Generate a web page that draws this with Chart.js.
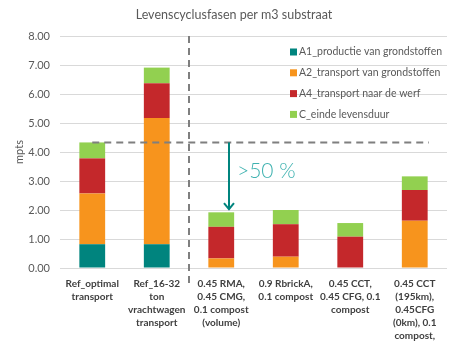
<!DOCTYPE html>
<html>
<head>
<meta charset="utf-8">
<script src="https://cdn.jsdelivr.net/npm/chart.js@4/dist/chart.umd.min.js"></script>
<style>
  html, body { margin: 0; padding: 0; background: #fff; }
  #wrap { width: 458px; height: 352px; position: relative; }
</style>
</head>
<body>
<div id="wrap"><canvas id="lcaChart"></canvas></div>
<script>
// Levenscyclusfasen per m3 substraat - stacked bars

const chartTitle = 'Levenscyclusfasen per m3 substraat';
const categories = [
    ['Ref_optimal', 'transport'],
    ['Ref_16-32', 'ton', 'vrachtwagen', 'transport'],
    ['0.45 RMA,', '0.45 CMG,', '0.1 compost', '(volume)'],
    ['0.9 RbrickA,', '0.1 compost'],
    ['0.45 CCT,', '0.45 CFG, 0.1', 'compost'],
    ['0.45 CCT', '(195km),', '0.45CFG', '(0km), 0.1', 'compost,']
];
const seriesNames = [
    'A1_productie van grondstoffen',
    'A2_transport van grondstoffen',
    'A4_transport naar de werf',
    'C_einde levensduur'
];
const a1Values = [0.82, 0.82, 0, 0, 0, 0];
const a2Values = [1.75, 4.35, 0.33, 0.39, 0, 1.63];
const a4Values = [1.21, 1.20, 1.09, 1.12, 1.08, 1.06];
const cValues = [0.55, 0.54, 0.50, 0.49, 0.47, 0.47];
const seriesColors = ['#00847e', '#f7941d', '#c4282b', '#92d050'];
const yTicks = [0, 1, 2, 3, 4, 5, 6, 7, 8];

const referenceTotal = a1Values[0] + a2Values[0] + a4Values[0] + cValues[0];

// Title drawn by hand so it can sit slightly right of the canvas centre
const titlePlugin = {
    id: 'titlePlugin',
    afterDraw(chart) {
        const ctx = chart.ctx;
        ctx.save();
        ctx.font = '12.5px Lato, "Open Sans", sans-serif';
        ctx.fillStyle = '#595959';
        ctx.textAlign = 'center';
        ctx.textBaseline = 'middle';
        ctx.fillText(chartTitle, chart.width / 2 + 5, 15);
        ctx.restore();
    }
};

// Legend drawn inside the plot area (top right)
const insideLegend = {
    id: 'insideLegend',
    afterDatasetsDraw(chart) {
        const ctx = chart.ctx;
        const area = chart.chartArea;
        const x0 = area.right - 157;
        ctx.save();
        ctx.font = '10.5px Lato, "Open Sans", sans-serif';
        ctx.textBaseline = 'middle';
        chart.data.datasets.forEach((ds, i) => {
            const y = area.top + 16 + i * 20.8;
            ctx.fillStyle = ds.backgroundColor;
            ctx.fillRect(x0, y - 3.5, 7, 7);
            ctx.fillStyle = '#595959';
            ctx.fillText(ds.label, x0 + 9, y);
        });
        ctx.restore();
    }
};

// Dashed reference lines, arrow and ">50 %" note
const annotations = {
    id: 'annotations',
    afterDatasetsDraw(chart) {
        const ctx = chart.ctx;
        const xs = chart.scales.x;
        const ys = chart.scales.y;
        const area = chart.chartArea;
        ctx.save();
        ctx.strokeStyle = '#7f7f7f';
        ctx.lineWidth = 2;
        ctx.setLineDash([7, 5]);

        // vertical separator between references and alternatives
        const sepX = xs.getPixelForValue(1.5);
        ctx.beginPath();
        ctx.moveTo(sepX, area.top);
        ctx.lineTo(sepX, area.bottom + 16);
        ctx.stroke();

        // horizontal line at reference total
        const refY = ys.getPixelForValue(referenceTotal);
        ctx.beginPath();
        ctx.moveTo(xs.getPixelForValue(0), refY);
        ctx.lineTo(xs.getPixelForValue(5.22), refY);
        ctx.stroke();

        // arrow down to the first alternative
        ctx.setLineDash([]);
        const arrowX = xs.getPixelForValue(2.12);
        const tipY = ys.getPixelForValue(2.03);
        ctx.strokeStyle = '#00847e';
        ctx.lineWidth = 2;
        ctx.beginPath();
        ctx.moveTo(arrowX, refY);
        ctx.lineTo(arrowX, tipY);
        ctx.stroke();
        ctx.beginPath();
        ctx.moveTo(arrowX - 5, tipY - 6);
        ctx.lineTo(arrowX, tipY);
        ctx.lineTo(arrowX + 5, tipY - 6);
        ctx.stroke();

        ctx.fillStyle = '#3fb2b0';
        ctx.font = '300 21px Lato, "Open Sans", sans-serif';
        ctx.textBaseline = 'middle';
        ctx.fillText('>50 %', arrowX + 8, ys.getPixelForValue(3.35));
        ctx.restore();
    }
};

function initLcaChart() {
    const canvas = document.getElementById('lcaChart');
    const allValues = [a1Values, a2Values, a4Values, cValues];
    new Chart(canvas.getContext('2d'), {
        type: 'bar',
        data: {
            labels: categories,
            datasets: seriesNames.map((name, i) => ({
                label: name,
                data: allValues[i],
                backgroundColor: seriesColors[i],
                borderWidth: 0,
                categoryPercentage: 1,
                barPercentage: 0.4
            }))
        },
        options: {
            responsive: true,
            maintainAspectRatio: false,
            animation: false,
            layout: { padding: { left: 0, right: 11, top: 36, bottom: 0 } },
            plugins: {
                legend: { display: false },
                tooltip: { enabled: false },
                title: { display: false }
            },
            scales: {
                x: {
                    stacked: true,
                    grid: { display: false, drawTicks: false },
                    border: { display: false },
                    ticks: {
                        color: '#404040',
                        autoSkip: false,
                        maxRotation: 0,
                        minRotation: 0,
                        padding: 9,
                        font: { family: 'Lato, "Open Sans", sans-serif', size: 10, weight: 'bold', lineHeight: 1.3 }
                    },
                    afterFit(scale) { scale.height = 84; }
                },
                y: {
                    stacked: true,
                    min: 0,
                    max: 8,
                    afterBuildTicks(scale) { scale.ticks = yTicks.map(v => ({ value: v })); },
                    grid: { color: '#d9d9d9', lineWidth: 1, drawTicks: false },
                    border: { display: false },
                    ticks: {
                        color: '#595959',
                        padding: 10,
                        font: { family: 'Lato, "Open Sans", sans-serif', size: 11 },
                        callback: (v) => Number(v).toFixed(2)
                    },
                    title: {
                        display: true,
                        text: 'mpts',
                        color: '#595959',
                        font: { family: 'Lato, "Open Sans", sans-serif', size: 11 },
                        padding: { top: 13, bottom: 0 }
                    },
                    afterFit(scale) { scale.width = 60; }
                }
            }
        },
        plugins: [insideLegend, annotations, titlePlugin]
    });
}

document.addEventListener('DOMContentLoaded', initLcaChart);
</script>
</body>
</html>
